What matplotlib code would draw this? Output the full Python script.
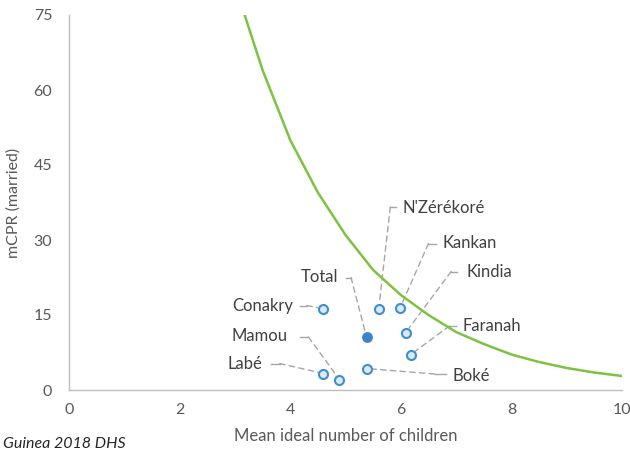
import matplotlib
matplotlib.use("Agg")
import matplotlib.pyplot as plt

# ---- data ----
regions = ["Conakry", "N'Zérékoré", "Kankan", "Total", "Kindia", "Faranah", "Boké", "Labé", "Mamou"]
ideal_children = [4.59, 5.60, 5.99, 5.38, 6.09, 6.18, 5.38, 4.60, 4.89]
mcpr = [16.3, 16.2, 16.5, 10.6, 11.5, 7.1, 4.3, 3.3, 2.1]

curve_x = [3.0, 3.5, 4.0, 4.5, 5.0, 5.5, 6.0, 6.5, 7.0, 7.5, 8.0, 8.5, 9.0, 9.5, 10.0]
curve_y = [81.0, 64.0, 50.0, 39.5, 31.0, 24.0, 19.0, 15.0, 11.6, 9.2, 7.1, 5.6, 4.4, 3.5, 2.8]

x_ticks = [0, 2, 4, 6, 8, 10]
y_ticks = [0, 15, 30, 45, 60, 75]

# ---- layout (label elbows / text anchors in data coords) ----
# (elbow_x, elbow_y, stub_end_x, text_x, text_y, ha)
label_layout = {
    "N'Zérékoré": (5.81, 36.6, 5.92, 6.03, 36.4, "left"),
    "Kankan": (6.50, 29.3, 6.64, 6.75, 29.4, "left"),
    "Kindia": (6.91, 23.7, 7.02, 7.18, 23.6, "left"),
    "Faranah": (6.88, 12.8, 6.99, 7.12, 12.8, "left"),
    "Boké": (6.61, 3.2, 6.82, 6.93, 2.8, "left"),
    "Labé": (3.81, 5.3, 3.66, 3.50, 5.2, "right"),
    "Mamou": (4.33, 10.6, 4.17, 3.95, 10.8, "right"),
    "Conakry": (4.30, 16.9, 4.17, 4.05, 16.7, "right"),
    "Total": (5.10, 22.5, 5.00, 4.86, 22.6, "right"),
}

plt.rcParams['font.family'] = ['Lato', 'DejaVu Sans']

fig = plt.figure(figsize=(6.3, 4.54), dpi=100)
ax = fig.add_axes([69/630, 1-390/454, 553/630, 375/454])

text_col = "#404040"
tick_col = "#595959"
green = "#7dc242"
blue = "#3d8fd1"

ax.plot(curve_x, curve_y, color=green, lw=1.8, zorder=3, clip_on=True)

lead_col = "#a6a6a6"
for name, x, y in zip(regions, ideal_children, mcpr):
    ex, ey, sx, tx, ty, ha = label_layout[name]
    ax.annotate("", xy=(x, y), xytext=(ex, ey),
                arrowprops=dict(arrowstyle='-', color=lead_col, lw=1.0,
                                linestyle=(0, (4, 3)), shrinkA=0, shrinkB=4),
                zorder=2)
    ax.plot([ex, sx], [ey, ey], color=lead_col, lw=1.0, zorder=2)
    ax.text(tx, ty, name, ha=ha, va="center", fontsize=12, color=text_col)

for name, x, y in zip(regions, ideal_children, mcpr):
    if name == "Total":
        ax.plot(x, y, 'o', ms=6.5, mfc="#3d85c6", mec="#3d85c6", mew=1.3, zorder=5)
    else:
        ax.plot(x, y, 'o', ms=6.5, mfc="#ddeaf6", mec=blue, mew=1.5, zorder=5)

ax.set_xlim(0, 10)
ax.set_ylim(0, 75)
ax.set_xticks(x_ticks)
ax.set_yticks(y_ticks)
ax.tick_params(length=0, labelsize=11.5, colors=tick_col)
ax.tick_params(axis='y', pad=12)
ax.tick_params(axis='x', pad=9)
for s in ["top", "right"]:
    ax.spines[s].set_visible(False)
ax.spines["left"].set_color("#bfbfbf")
ax.spines["bottom"].set_color("#bfbfbf")
ax.spines["left"].set_linewidth(1.0)
ax.spines["bottom"].set_linewidth(1.0)

ax.set_xlabel("Mean ideal number of children", fontsize=12, color=tick_col, labelpad=8)
ax.set_ylabel("mCPR (married)", fontsize=11.5, color=tick_col, labelpad=9)

fig.text(0.004, 1 - 444/454, "Guinea 2018 DHS", fontsize=11.5,
         style="italic", color="#262626", ha="left", va="center")

fig.savefig("out.png", dpi=100)
